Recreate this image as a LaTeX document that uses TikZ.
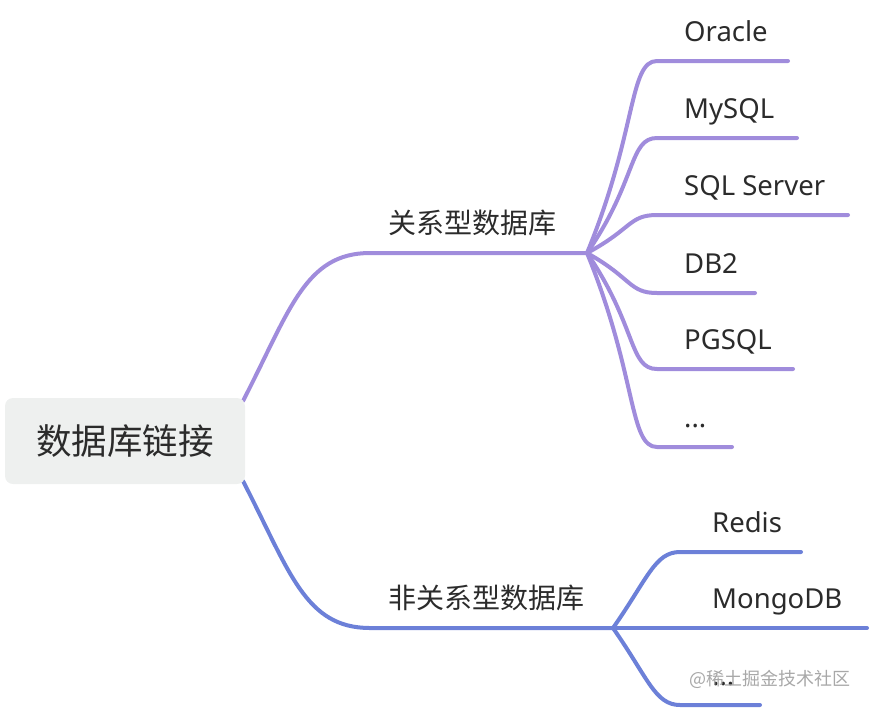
\documentclass[tikz,border=0pt]{standalone}
\usepackage{fontspec}
\setmainfont{Noto Sans}
\newfontfamily\cjk{Noto Sans CJK SC}
\usetikzlibrary{calc}
\definecolor{relc}{HTML}{A08CDC}
\definecolor{nonc}{HTML}{6C80D8}
\definecolor{rootfill}{HTML}{EEF0EF}
\definecolor{txt}{HTML}{2B2B2B}
\definecolor{wmark}{HTML}{A8A8A8}
\begin{document}
\begin{tikzpicture}[x=1pt,y=-1pt,
  rel/.style={draw=relc,line width=4pt,line cap=round},
  non/.style={draw=nonc,line width=4pt,line cap=round},
  leaf/.style={anchor=base west,inner sep=0pt,font=\fontsize{27.5}{32}\selectfont,text=txt},
  cat/.style={anchor=base west,inner sep=0pt,font=\cjk\fontsize{28}{32}\selectfont,text=txt},
  rootbox/.style={fill=rootfill,rounded corners=8pt,minimum width=240pt,minimum height=86pt,inner sep=0pt,font=\cjk\fontsize{35.5}{40}\selectfont,text=txt},
  wm/.style={anchor=base west,inner sep=0pt,font=\cjk\fontsize{18}{22}\selectfont,text=wmark}]
\useasboundingbox (0,0) rectangle (870,710);

% anchor coordinates
\coordinate (rootTop) at (243,401);
\coordinate (rootBot) at (243,481);
\coordinate (relS) at (370,253);
\coordinate (relHub) at (587,253);
\coordinate (nonS) at (370,628);
\coordinate (nonHub) at (613,628);

\coordinate (oracleS) at (657,61);   \coordinate (oracleE) at (788,61);
\coordinate (mysqlS) at (657,138);   \coordinate (mysqlE) at (797,138);
\coordinate (sqlsS) at (657,215);    \coordinate (sqlsE) at (848,215);
\coordinate (db2S) at (657,293);     \coordinate (db2E) at (755,293);
\coordinate (pgS) at (657,369);      \coordinate (pgE) at (793,369);
\coordinate (relmoreS) at (657,447); \coordinate (relmoreE) at (732,447);

\coordinate (redisS) at (680,552);   \coordinate (redisE) at (801,552);
\coordinate (mongoE) at (867,628);
\coordinate (nonmoreS) at (680,705); \coordinate (nonmoreE) at (760,705);

% main branches
\draw[rel] (rootTop) .. controls +(47,-91) and +(-65,0) .. (relS) -- (relHub);
\draw[non] (rootBot) .. controls +(47,91) and +(-65,0) .. (nonS) -- (nonHub);

% relational leaves
\draw[rel] (relHub) .. controls +(50,-121) and +(-28,0) .. (oracleS) -- (oracleE);
\draw[rel] (relHub) .. controls +(50,-72) and +(-28,0) .. (mysqlS) -- (mysqlE);
\draw[rel] (relHub) .. controls +(45,-24) and +(-28,0) .. (sqlsS) -- (sqlsE);
\draw[rel] (relHub) .. controls +(45,25) and +(-28,0) .. (db2S) -- (db2E);
\draw[rel] (relHub) .. controls +(50,73) and +(-28,0) .. (pgS) -- (pgE);
\draw[rel] (relHub) .. controls +(50,122) and +(-28,0) .. (relmoreS) -- (relmoreE);

% non-relational leaves
\draw[non] (nonHub) .. controls +(35,-50) and +(-25,0) .. (redisS) -- (redisE);
\draw[non] (nonHub) -- (mongoE);
\draw[non] (nonHub) .. controls +(35,50) and +(-25,0) .. (nonmoreS) -- (nonmoreE);

% root
\node[rootbox] (root) at (125,441) {数据库链接};

% category labels
\node[cat] (rel) at (388,233) {关系型数据库};
\node[cat] (non) at (388,608) {非关系型数据库};

% leaf labels
\node[leaf] (oracle) at (684,41) {Oracle};
\node[leaf] (mysql) at (684,118) {MySQL};
\node[leaf] (sqls) at (684,195) {SQL Server};
\node[leaf] (db2) at (684,273) {DB2};
\node[leaf] (pg) at (684,349) {PGSQL};
\node[leaf] (relmore) at (684,427) {...};

\node[leaf] (redis) at (712,532) {Redis};
\node[leaf] (mongo) at (712,608) {MongoDB};
\node[leaf] (nonmore) at (712,685) {...};

% watermark
\node[wm] (mark) at (689,685) {@稀土掘金技术社区};
\end{tikzpicture}
\end{document}
